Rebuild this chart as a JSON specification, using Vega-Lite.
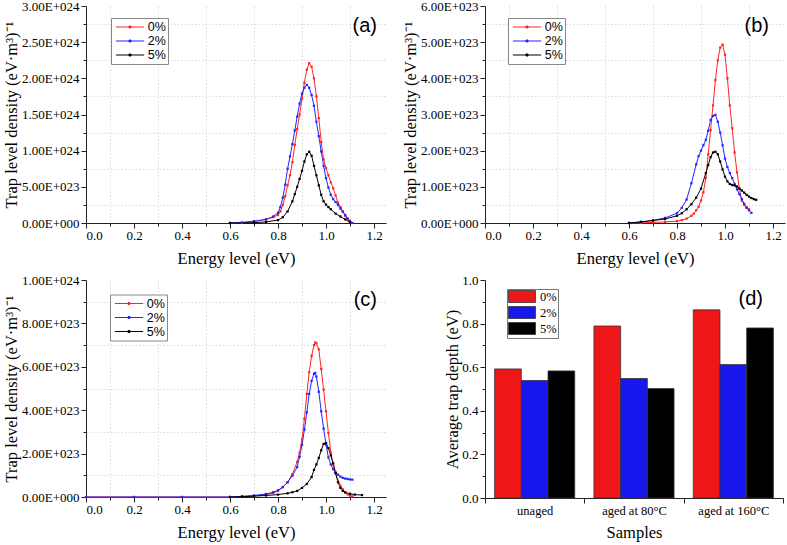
{
"$schema": "https://vega.github.io/schema/vega-lite/v6.json",
"padding": {"left": 3, "top": 0, "right": 2, "bottom": 2},
"config": {
  "view": {"stroke": null},
  "font": "Liberation Serif",
  "axis": {"labelFont": "Liberation Serif", "labelFontSize": 13, "labelColor": "#000", "titleFont": "Liberation Serif", "titleFontSize": 16.5, "titleFontWeight": "normal", "titleColor": "#000", "domainColor": "#222", "tickColor": "#222", "gridColor": "#d0d0d0", "gridDash": [1.5, 2], "gridWidth": 0.8},
  "legend": {"padding": 2, "strokeColor": "#888", "fillColor": "#fff", "labelFont": "Liberation Sans", "labelFontSize": 12.5, "labelColor": "#000", "symbolSize": 169, "rowPadding": -2, "labelOffset": 20.7, "symbolStrokeWidth": 1}
},
"datasets": {
"curves": [
{"p":"a","s":"0%","E":0.60,"d":0},{"p":"a","s":"0%","E":0.65,"d":0.005e24},{"p":"a","s":"0%","E":0.70,"d":0.02e24},{"p":"a","s":"0%","E":0.75,"d":0.05e24},{"p":"a","s":"0%","E":0.78,"d":0.08e24},{"p":"a","s":"0%","E":0.80,"d":0.11e24},{"p":"a","s":"0%","E":0.81,"d":0.16e24},{"p":"a","s":"0%","E":0.82,"d":0.25e24},{"p":"a","s":"0%","E":0.83,"d":0.37e24},{"p":"a","s":"0%","E":0.84,"d":0.52e24},{"p":"a","s":"0%","E":0.85,"d":0.66e24},{"p":"a","s":"0%","E":0.86,"d":0.84e24},{"p":"a","s":"0%","E":0.87,"d":1.08e24},{"p":"a","s":"0%","E":0.88,"d":1.30e24},{"p":"a","s":"0%","E":0.89,"d":1.50e24},{"p":"a","s":"0%","E":0.90,"d":1.72e24},{"p":"a","s":"0%","E":0.91,"d":1.94e24},{"p":"a","s":"0%","E":0.92,"d":2.12e24},{"p":"a","s":"0%","E":0.93,"d":2.21e24},{"p":"a","s":"0%","E":0.94,"d":2.16e24},{"p":"a","s":"0%","E":0.95,"d":2.00e24},{"p":"a","s":"0%","E":0.96,"d":1.75e24},{"p":"a","s":"0%","E":0.97,"d":1.45e24},{"p":"a","s":"0%","E":0.98,"d":1.12e24},{"p":"a","s":"0%","E":0.99,"d":0.88e24},{"p":"a","s":"0%","E":1.00,"d":0.76e24},{"p":"a","s":"0%","E":1.01,"d":0.66e24},{"p":"a","s":"0%","E":1.02,"d":0.56e24},{"p":"a","s":"0%","E":1.03,"d":0.48e24},{"p":"a","s":"0%","E":1.04,"d":0.38e24},{"p":"a","s":"0%","E":1.05,"d":0.28e24},{"p":"a","s":"0%","E":1.06,"d":0.22e24},{"p":"a","s":"0%","E":1.07,"d":0.16e24},{"p":"a","s":"0%","E":1.08,"d":0.10e24},{"p":"a","s":"0%","E":1.09,"d":0.05e24},{"p":"a","s":"0%","E":1.10,"d":0.01e24},
{"p":"a","s":"2%","E":0.60,"d":0},{"p":"a","s":"2%","E":0.65,"d":0.007e24},{"p":"a","s":"2%","E":0.70,"d":0.025e24},{"p":"a","s":"2%","E":0.75,"d":0.05e24},{"p":"a","s":"2%","E":0.78,"d":0.09e24},{"p":"a","s":"2%","E":0.80,"d":0.14e24},{"p":"a","s":"2%","E":0.81,"d":0.22e24},{"p":"a","s":"2%","E":0.82,"d":0.35e24},{"p":"a","s":"2%","E":0.83,"d":0.53e24},{"p":"a","s":"2%","E":0.84,"d":0.75e24},{"p":"a","s":"2%","E":0.85,"d":0.92e24},{"p":"a","s":"2%","E":0.86,"d":1.09e24},{"p":"a","s":"2%","E":0.87,"d":1.28e24},{"p":"a","s":"2%","E":0.88,"d":1.47e24},{"p":"a","s":"2%","E":0.89,"d":1.65e24},{"p":"a","s":"2%","E":0.90,"d":1.79e24},{"p":"a","s":"2%","E":0.91,"d":1.87e24},{"p":"a","s":"2%","E":0.92,"d":1.91e24},{"p":"a","s":"2%","E":0.93,"d":1.87e24},{"p":"a","s":"2%","E":0.94,"d":1.77e24},{"p":"a","s":"2%","E":0.95,"d":1.62e24},{"p":"a","s":"2%","E":0.96,"d":1.40e24},{"p":"a","s":"2%","E":0.97,"d":1.20e24},{"p":"a","s":"2%","E":0.98,"d":0.99e24},{"p":"a","s":"2%","E":0.99,"d":0.79e24},{"p":"a","s":"2%","E":1.00,"d":0.62e24},{"p":"a","s":"2%","E":1.01,"d":0.49e24},{"p":"a","s":"2%","E":1.02,"d":0.39e24},{"p":"a","s":"2%","E":1.03,"d":0.33e24},{"p":"a","s":"2%","E":1.04,"d":0.29e24},{"p":"a","s":"2%","E":1.05,"d":0.25e24},{"p":"a","s":"2%","E":1.06,"d":0.20e24},{"p":"a","s":"2%","E":1.07,"d":0.156e24},{"p":"a","s":"2%","E":1.08,"d":0.11e24},{"p":"a","s":"2%","E":1.09,"d":0.065e24},{"p":"a","s":"2%","E":1.10,"d":0.03e24},{"p":"a","s":"2%","E":1.11,"d":0},
{"p":"a","s":"5%","E":0.60,"d":0},{"p":"a","s":"5%","E":0.70,"d":0.005e24},{"p":"a","s":"5%","E":0.75,"d":0.015e24},{"p":"a","s":"5%","E":0.80,"d":0.04e24},{"p":"a","s":"5%","E":0.82,"d":0.08e24},{"p":"a","s":"5%","E":0.84,"d":0.16e24},{"p":"a","s":"5%","E":0.86,"d":0.30e24},{"p":"a","s":"5%","E":0.87,"d":0.40e24},{"p":"a","s":"5%","E":0.88,"d":0.50e24},{"p":"a","s":"5%","E":0.89,"d":0.61e24},{"p":"a","s":"5%","E":0.90,"d":0.72e24},{"p":"a","s":"5%","E":0.91,"d":0.85e24},{"p":"a","s":"5%","E":0.92,"d":0.95e24},{"p":"a","s":"5%","E":0.93,"d":0.985e24},{"p":"a","s":"5%","E":0.94,"d":0.93e24},{"p":"a","s":"5%","E":0.95,"d":0.79e24},{"p":"a","s":"5%","E":0.96,"d":0.66e24},{"p":"a","s":"5%","E":0.97,"d":0.52e24},{"p":"a","s":"5%","E":0.98,"d":0.39e24},{"p":"a","s":"5%","E":0.99,"d":0.30e24},{"p":"a","s":"5%","E":1.00,"d":0.255e24},{"p":"a","s":"5%","E":1.01,"d":0.22e24},{"p":"a","s":"5%","E":1.02,"d":0.19e24},{"p":"a","s":"5%","E":1.04,"d":0.13e24},{"p":"a","s":"5%","E":1.06,"d":0.09e24},{"p":"a","s":"5%","E":1.08,"d":0.05e24},{"p":"a","s":"5%","E":1.10,"d":0.01e24},

{"p":"b","s":"0%","E":0.60,"d":0},{"p":"b","s":"0%","E":0.65,"d":0.005e23},{"p":"b","s":"0%","E":0.70,"d":0.015e23},{"p":"b","s":"0%","E":0.75,"d":0.03e23},{"p":"b","s":"0%","E":0.80,"d":0.05e23},{"p":"b","s":"0%","E":0.82,"d":0.08e23},{"p":"b","s":"0%","E":0.84,"d":0.12e23},{"p":"b","s":"0%","E":0.86,"d":0.20e23},{"p":"b","s":"0%","E":0.87,"d":0.26e23},{"p":"b","s":"0%","E":0.88,"d":0.35e23},{"p":"b","s":"0%","E":0.89,"d":0.45e23},{"p":"b","s":"0%","E":0.90,"d":0.62e23},{"p":"b","s":"0%","E":0.91,"d":0.85e23},{"p":"b","s":"0%","E":0.92,"d":1.25e23},{"p":"b","s":"0%","E":0.93,"d":1.90e23},{"p":"b","s":"0%","E":0.94,"d":2.57e23},{"p":"b","s":"0%","E":0.95,"d":3.25e23},{"p":"b","s":"0%","E":0.96,"d":3.95e23},{"p":"b","s":"0%","E":0.97,"d":4.50e23},{"p":"b","s":"0%","E":0.98,"d":4.85e23},{"p":"b","s":"0%","E":0.99,"d":4.93e23},{"p":"b","s":"0%","E":1.00,"d":4.65e23},{"p":"b","s":"0%","E":1.01,"d":4.00e23},{"p":"b","s":"0%","E":1.02,"d":3.25e23},{"p":"b","s":"0%","E":1.03,"d":2.62e23},{"p":"b","s":"0%","E":1.04,"d":1.95e23},{"p":"b","s":"0%","E":1.05,"d":1.40e23},{"p":"b","s":"0%","E":1.06,"d":0.95e23},{"p":"b","s":"0%","E":1.07,"d":0.62e23},{"p":"b","s":"0%","E":1.08,"d":0.50e23},{"p":"b","s":"0%","E":1.09,"d":0.44e23},{"p":"b","s":"0%","E":1.10,"d":0.38e23},
{"p":"b","s":"2%","E":0.60,"d":0},{"p":"b","s":"2%","E":0.65,"d":0.03e23},{"p":"b","s":"2%","E":0.70,"d":0.07e23},{"p":"b","s":"2%","E":0.75,"d":0.14e23},{"p":"b","s":"2%","E":0.80,"d":0.27e23},{"p":"b","s":"2%","E":0.82,"d":0.42e23},{"p":"b","s":"2%","E":0.84,"d":0.65e23},{"p":"b","s":"2%","E":0.86,"d":1.10e23},{"p":"b","s":"2%","E":0.88,"d":1.62e23},{"p":"b","s":"2%","E":0.89,"d":1.85e23},{"p":"b","s":"2%","E":0.90,"d":2.00e23},{"p":"b","s":"2%","E":0.91,"d":2.15e23},{"p":"b","s":"2%","E":0.92,"d":2.30e23},{"p":"b","s":"2%","E":0.93,"d":2.55e23},{"p":"b","s":"2%","E":0.94,"d":2.85e23},{"p":"b","s":"2%","E":0.95,"d":2.96e23},{"p":"b","s":"2%","E":0.96,"d":2.99e23},{"p":"b","s":"2%","E":0.97,"d":2.80e23},{"p":"b","s":"2%","E":0.98,"d":2.50e23},{"p":"b","s":"2%","E":0.99,"d":2.15e23},{"p":"b","s":"2%","E":1.00,"d":1.78e23},{"p":"b","s":"2%","E":1.01,"d":1.55e23},{"p":"b","s":"2%","E":1.02,"d":1.38e23},{"p":"b","s":"2%","E":1.03,"d":1.24e23},{"p":"b","s":"2%","E":1.04,"d":1.08e23},{"p":"b","s":"2%","E":1.05,"d":0.93e23},{"p":"b","s":"2%","E":1.06,"d":0.80e23},{"p":"b","s":"2%","E":1.07,"d":0.66e23},{"p":"b","s":"2%","E":1.08,"d":0.53e23},{"p":"b","s":"2%","E":1.09,"d":0.42e23},{"p":"b","s":"2%","E":1.10,"d":0.35e23},{"p":"b","s":"2%","E":1.11,"d":0.28e23},
{"p":"b","s":"5%","E":0.60,"d":0},{"p":"b","s":"5%","E":0.65,"d":0.03e23},{"p":"b","s":"5%","E":0.70,"d":0.07e23},{"p":"b","s":"5%","E":0.75,"d":0.11e23},{"p":"b","s":"5%","E":0.80,"d":0.20e23},{"p":"b","s":"5%","E":0.82,"d":0.27e23},{"p":"b","s":"5%","E":0.84,"d":0.38e23},{"p":"b","s":"5%","E":0.86,"d":0.52e23},{"p":"b","s":"5%","E":0.88,"d":0.70e23},{"p":"b","s":"5%","E":0.90,"d":0.95e23},{"p":"b","s":"5%","E":0.92,"d":1.38e23},{"p":"b","s":"5%","E":0.93,"d":1.60e23},{"p":"b","s":"5%","E":0.94,"d":1.82e23},{"p":"b","s":"5%","E":0.95,"d":1.95e23},{"p":"b","s":"5%","E":0.96,"d":1.97e23},{"p":"b","s":"5%","E":0.97,"d":1.90e23},{"p":"b","s":"5%","E":0.98,"d":1.70e23},{"p":"b","s":"5%","E":0.99,"d":1.48e23},{"p":"b","s":"5%","E":1.00,"d":1.28e23},{"p":"b","s":"5%","E":1.01,"d":1.15e23},{"p":"b","s":"5%","E":1.02,"d":1.08e23},{"p":"b","s":"5%","E":1.03,"d":1.05e23},{"p":"b","s":"5%","E":1.04,"d":1.04e23},{"p":"b","s":"5%","E":1.05,"d":1.01e23},{"p":"b","s":"5%","E":1.06,"d":0.95e23},{"p":"b","s":"5%","E":1.07,"d":0.90e23},{"p":"b","s":"5%","E":1.08,"d":0.84e23},{"p":"b","s":"5%","E":1.09,"d":0.78e23},{"p":"b","s":"5%","E":1.10,"d":0.73e23},{"p":"b","s":"5%","E":1.11,"d":0.69e23},{"p":"b","s":"5%","E":1.12,"d":0.66e23},{"p":"b","s":"5%","E":1.13,"d":0.64e23},

{"p":"c","s":"0%","E":0.0,"d":0},{"p":"c","s":"0%","E":0.2,"d":0},{"p":"c","s":"0%","E":0.4,"d":0},{"p":"c","s":"0%","E":0.60,"d":0},{"p":"c","s":"0%","E":0.65,"d":0.02e23},{"p":"c","s":"0%","E":0.70,"d":0.05e23},{"p":"c","s":"0%","E":0.75,"d":0.11e23},{"p":"c","s":"0%","E":0.78,"d":0.18e23},{"p":"c","s":"0%","E":0.80,"d":0.28e23},{"p":"c","s":"0%","E":0.82,"d":0.45e23},{"p":"c","s":"0%","E":0.84,"d":0.68e23},{"p":"c","s":"0%","E":0.86,"d":1.05e23},{"p":"c","s":"0%","E":0.88,"d":1.62e23},{"p":"c","s":"0%","E":0.89,"d":2.05e23},{"p":"c","s":"0%","E":0.90,"d":2.65e23},{"p":"c","s":"0%","E":0.91,"d":3.60e23},{"p":"c","s":"0%","E":0.92,"d":4.75e23},{"p":"c","s":"0%","E":0.93,"d":5.75e23},{"p":"c","s":"0%","E":0.94,"d":6.50e23},{"p":"c","s":"0%","E":0.95,"d":7.00e23},{"p":"c","s":"0%","E":0.955,"d":7.12e23},{"p":"c","s":"0%","E":0.96,"d":7.08e23},{"p":"c","s":"0%","E":0.97,"d":6.80e23},{"p":"c","s":"0%","E":0.98,"d":5.90e23},{"p":"c","s":"0%","E":0.99,"d":4.95e23},{"p":"c","s":"0%","E":1.00,"d":3.95e23},{"p":"c","s":"0%","E":1.01,"d":2.95e23},{"p":"c","s":"0%","E":1.02,"d":2.05e23},{"p":"c","s":"0%","E":1.03,"d":1.50e23},{"p":"c","s":"0%","E":1.04,"d":1.10e23},{"p":"c","s":"0%","E":1.05,"d":0.75e23},{"p":"c","s":"0%","E":1.06,"d":0.52e23},{"p":"c","s":"0%","E":1.07,"d":0.35e23},{"p":"c","s":"0%","E":1.08,"d":0.22e23},{"p":"c","s":"0%","E":1.09,"d":0.12e23},{"p":"c","s":"0%","E":1.10,"d":0.06e23},{"p":"c","s":"0%","E":1.11,"d":0.03e23},
{"p":"c","s":"2%","E":0.0,"d":0},{"p":"c","s":"2%","E":0.2,"d":0},{"p":"c","s":"2%","E":0.4,"d":0},{"p":"c","s":"2%","E":0.60,"d":0},{"p":"c","s":"2%","E":0.65,"d":0.03e23},{"p":"c","s":"2%","E":0.70,"d":0.07e23},{"p":"c","s":"2%","E":0.75,"d":0.14e23},{"p":"c","s":"2%","E":0.78,"d":0.22e23},{"p":"c","s":"2%","E":0.80,"d":0.31e23},{"p":"c","s":"2%","E":0.82,"d":0.46e23},{"p":"c","s":"2%","E":0.84,"d":0.68e23},{"p":"c","s":"2%","E":0.86,"d":0.98e23},{"p":"c","s":"2%","E":0.88,"d":1.38e23},{"p":"c","s":"2%","E":0.89,"d":1.85e23},{"p":"c","s":"2%","E":0.90,"d":2.40e23},{"p":"c","s":"2%","E":0.91,"d":3.10e23},{"p":"c","s":"2%","E":0.92,"d":3.90e23},{"p":"c","s":"2%","E":0.93,"d":4.75e23},{"p":"c","s":"2%","E":0.94,"d":5.35e23},{"p":"c","s":"2%","E":0.95,"d":5.68e23},{"p":"c","s":"2%","E":0.955,"d":5.72e23},{"p":"c","s":"2%","E":0.96,"d":5.55e23},{"p":"c","s":"2%","E":0.97,"d":4.85e23},{"p":"c","s":"2%","E":0.98,"d":3.95e23},{"p":"c","s":"2%","E":0.99,"d":3.15e23},{"p":"c","s":"2%","E":1.00,"d":2.42e23},{"p":"c","s":"2%","E":1.01,"d":1.82e23},{"p":"c","s":"2%","E":1.02,"d":1.50e23},{"p":"c","s":"2%","E":1.03,"d":1.28e23},{"p":"c","s":"2%","E":1.04,"d":1.14e23},{"p":"c","s":"2%","E":1.05,"d":1.03e23},{"p":"c","s":"2%","E":1.06,"d":0.94e23},{"p":"c","s":"2%","E":1.07,"d":0.88e23},{"p":"c","s":"2%","E":1.08,"d":0.85e23},{"p":"c","s":"2%","E":1.09,"d":0.83e23},{"p":"c","s":"2%","E":1.10,"d":0.81e23},{"p":"c","s":"2%","E":1.11,"d":0.80e23},
{"p":"c","s":"5%","E":0.60,"d":0},{"p":"c","s":"5%","E":0.65,"d":0.01e23},{"p":"c","s":"5%","E":0.70,"d":0.04e23},{"p":"c","s":"5%","E":0.75,"d":0.07e23},{"p":"c","s":"5%","E":0.80,"d":0.11e23},{"p":"c","s":"5%","E":0.84,"d":0.17e23},{"p":"c","s":"5%","E":0.86,"d":0.22e23},{"p":"c","s":"5%","E":0.88,"d":0.28e23},{"p":"c","s":"5%","E":0.90,"d":0.42e23},{"p":"c","s":"5%","E":0.92,"d":0.60e23},{"p":"c","s":"5%","E":0.94,"d":0.92e23},{"p":"c","s":"5%","E":0.95,"d":1.25e23},{"p":"c","s":"5%","E":0.96,"d":1.50e23},{"p":"c","s":"5%","E":0.97,"d":1.80e23},{"p":"c","s":"5%","E":0.98,"d":2.15e23},{"p":"c","s":"5%","E":0.99,"d":2.45e23},{"p":"c","s":"5%","E":1.00,"d":2.48e23},{"p":"c","s":"5%","E":1.01,"d":2.25e23},{"p":"c","s":"5%","E":1.02,"d":1.92e23},{"p":"c","s":"5%","E":1.03,"d":1.55e23},{"p":"c","s":"5%","E":1.04,"d":1.10e23},{"p":"c","s":"5%","E":1.05,"d":0.68e23},{"p":"c","s":"5%","E":1.06,"d":0.42e23},{"p":"c","s":"5%","E":1.07,"d":0.28e23},{"p":"c","s":"5%","E":1.08,"d":0.21e23},{"p":"c","s":"5%","E":1.10,"d":0.15e23},{"p":"c","s":"5%","E":1.12,"d":0.11e23},{"p":"c","s":"5%","E":1.15,"d":0.09e23}
],
"bars": [
{"sample":"unaged","s":"0%","depth":0.592},{"sample":"unaged","s":"2%","depth":0.539},{"sample":"unaged","s":"5%","depth":0.583},
{"sample":"aged at 80°C","s":"0%","depth":0.789},{"sample":"aged at 80°C","s":"2%","depth":0.548},{"sample":"aged at 80°C","s":"5%","depth":0.502},
{"sample":"aged at 160°C","s":"0%","depth":0.863},{"sample":"aged at 160°C","s":"2%","depth":0.612},{"sample":"aged at 160°C","s":"5%","depth":0.780}
]
},
"columns": 2,
"spacing": {"row": 7, "column": 16},
"resolve": {"scale": {"color": "independent"}, "legend": {"color": "independent"}},
"concat": [
{
  "width": 300, "height": 217,
  "data": {"name": "curves"},
  "transform": [{"filter": "datum.p == 'a'"}],
  "title": {"text": "(a)", "anchor": "end", "frame": "group", "orient": "top", "font": "Liberation Sans", "fontSize": 20, "fontWeight": "normal", "color": "#000", "offset": 0, "dy": 36, "dx": -9},
  "mark": {"type": "line", "strokeWidth": 1, "point": {"filled": true, "size": 5, "shape": "square"}},
  "encoding": {
    "x": {"field": "E", "type": "quantitative", "scale": {"domain": [0, 1.25], "nice": false},
      "axis": {"title": "Energy level (eV)", "titleFont": "Liberation Serif", "titleFontWeight": "normal", "labelFont": "Liberation Serif", "values": [0,0.1,0.2,0.3,0.4,0.5,0.6,0.7,0.8,0.9,1.0,1.1,1.2],
        "labelExpr": "round(datum.value*10) % 2 == 0 ? format(datum.value, '.1f') : ''",
        "tickSize": {"condition": {"test": "round(datum.value*10) % 2 == 0", "value": 5}, "value": 3},
        "grid": true, "gridOpacity": {"condition": {"test": "round(datum.value*10) % 2 == 1", "value": 1}, "value": 0},
        "labelPadding": 1, "titlePadding": 8}},
    "y": {"field": "d", "type": "quantitative", "scale": {"domain": [0, 3e24], "nice": false},
      "axis": {"title": "Trap level density (eV·m³)⁻¹", "titleFont": "Liberation Serif", "titleFontWeight": "normal", "labelFont": "Liberation Serif", "values": [0,2.5e23,5e23,7.5e23,1e24,1.25e24,1.5e24,1.75e24,2e24,2.25e24,2.5e24,2.75e24,3e24],
        "labelExpr": "round(datum.value/2.5e23) % 2 != 0 ? '' : (datum.value == 0 ? '0.00E+000' : format(datum.value / pow(10, floor(log(datum.value)/LN10 + 1e-9)), '.2f') + 'E+0' + floor(log(datum.value)/LN10 + 1e-9))",
        "tickSize": {"condition": {"test": "round(datum.value/2.5e23) % 2 == 0", "value": 5}, "value": 3},
        "grid": true, "gridOpacity": {"condition": {"test": "round(datum.value/2.5e23) % 2 == 1", "value": 1}, "value": 0},
        "labelPadding": 2, "titlePadding": 2}},
    "color": {"field": "s", "type": "nominal", "scale": {"domain": ["0%","2%","5%"], "range": ["#ff2424","#2424ff","#000000"]},
      "legend": {"title": null, "orient": "none", "legendX": 25, "legendY": 12, "symbolType": "M-0.63,0H3.72M1.39,-0.15H1.69V0.15H1.39Z"}}
  }
},
{
  "width": 300, "height": 217,
  "data": {"name": "curves"},
  "transform": [{"filter": "datum.p == 'b'"}],
  "title": {"text": "(b)", "anchor": "end", "frame": "group", "orient": "top", "font": "Liberation Sans", "fontSize": 20, "fontWeight": "normal", "color": "#000", "offset": 0, "dy": 36, "dx": -16},
  "mark": {"type": "line", "strokeWidth": 1, "point": {"filled": true, "size": 5, "shape": "square"}},
  "encoding": {
    "x": {"field": "E", "type": "quantitative", "scale": {"domain": [0, 1.25], "nice": false},
      "axis": {"title": "Energy level (eV)", "titleFont": "Liberation Serif", "titleFontWeight": "normal", "labelFont": "Liberation Serif", "values": [0,0.1,0.2,0.3,0.4,0.5,0.6,0.7,0.8,0.9,1.0,1.1,1.2],
        "labelExpr": "round(datum.value*10) % 2 == 0 ? format(datum.value, '.1f') : ''",
        "tickSize": {"condition": {"test": "round(datum.value*10) % 2 == 0", "value": 5}, "value": 3},
        "grid": true, "gridOpacity": {"condition": {"test": "round(datum.value*10) % 2 == 1", "value": 1}, "value": 0},
        "labelPadding": 1, "titlePadding": 8}},
    "y": {"field": "d", "type": "quantitative", "scale": {"domain": [0, 6e23], "nice": false},
      "axis": {"title": "Trap level density (eV·m³)⁻¹", "titleFont": "Liberation Serif", "titleFontWeight": "normal", "labelFont": "Liberation Serif", "values": [0,5e22,1e23,1.5e23,2e23,2.5e23,3e23,3.5e23,4e23,4.5e23,5e23,5.5e23,6e23],
        "labelExpr": "round(datum.value/5e22) % 2 != 0 ? '' : (datum.value == 0 ? '0.00E+000' : format(datum.value / pow(10, floor(log(datum.value)/LN10 + 1e-9)), '.2f') + 'E+0' + floor(log(datum.value)/LN10 + 1e-9))",
        "tickSize": {"condition": {"test": "round(datum.value/5e22) % 2 == 0", "value": 5}, "value": 3},
        "grid": true, "gridOpacity": {"condition": {"test": "round(datum.value/5e22) % 2 == 1", "value": 1}, "value": 0},
        "labelPadding": 2, "titlePadding": 2}},
    "color": {"field": "s", "type": "nominal", "scale": {"domain": ["0%","2%","5%"], "range": ["#ff2424","#2424ff","#000000"]},
      "legend": {"title": null, "orient": "none", "legendX": 23, "legendY": 12, "symbolType": "M-0.63,0H3.72M1.39,-0.15H1.69V0.15H1.39Z"}}
  }
},
{
  "width": 300, "height": 217,
  "data": {"name": "curves"},
  "transform": [{"filter": "datum.p == 'c'"}],
  "title": {"text": "(c)", "anchor": "end", "frame": "group", "orient": "top", "font": "Liberation Sans", "fontSize": 20, "fontWeight": "normal", "color": "#000", "offset": 0, "dy": 36, "dx": -9},
  "mark": {"type": "line", "strokeWidth": 1, "point": {"filled": true, "size": 5, "shape": "square"}},
  "encoding": {
    "x": {"field": "E", "type": "quantitative", "scale": {"domain": [0, 1.25], "nice": false},
      "axis": {"title": "Energy level (eV)", "titleFont": "Liberation Serif", "titleFontWeight": "normal", "labelFont": "Liberation Serif", "values": [0,0.1,0.2,0.3,0.4,0.5,0.6,0.7,0.8,0.9,1.0,1.1,1.2],
        "labelExpr": "round(datum.value*10) % 2 == 0 ? format(datum.value, '.1f') : ''",
        "tickSize": {"condition": {"test": "round(datum.value*10) % 2 == 0", "value": 5}, "value": 3},
        "grid": true, "gridOpacity": {"condition": {"test": "round(datum.value*10) % 2 == 1", "value": 1}, "value": 0},
        "labelPadding": 1, "titlePadding": 8}},
    "y": {"field": "d", "type": "quantitative", "scale": {"domain": [0, 1e24], "nice": false},
      "axis": {"title": "Trap level density (eV·m³)⁻¹", "titleFont": "Liberation Serif", "titleFontWeight": "normal", "labelFont": "Liberation Serif", "values": [0,1e23,2e23,3e23,4e23,5e23,6e23,7e23,8e23,9e23,1e24],
        "labelExpr": "round(datum.value/1e23) % 2 != 0 ? '' : (datum.value == 0 ? '0.00E+000' : format(datum.value / pow(10, floor(log(datum.value)/LN10 + 1e-9)), '.2f') + 'E+0' + floor(log(datum.value)/LN10 + 1e-9))",
        "tickSize": {"condition": {"test": "round(datum.value/1e23) % 2 == 0", "value": 5}, "value": 3},
        "grid": true, "gridOpacity": {"condition": {"test": "round(datum.value/1e23) % 2 == 1", "value": 1}, "value": 0},
        "labelPadding": 2, "titlePadding": 2}},
    "color": {"field": "s", "type": "nominal", "scale": {"domain": ["0%","2%","5%"], "range": ["#ff2424","#2424ff","#000000"]},
      "legend": {"title": null, "orient": "none", "legendX": 24, "legendY": 14.5, "symbolType": "M-0.63,0H3.72M1.39,-0.15H1.69V0.15H1.39Z"}}
  }
},
{
  "width": 298, "height": 218,
  "data": {"name": "bars"},
  "title": {"text": "(d)", "anchor": "end", "frame": "group", "orient": "top", "font": "Liberation Sans", "fontSize": 20, "fontWeight": "normal", "color": "#000", "offset": 0, "dy": 35, "dx": -20},
  "mark": {"type": "bar", "stroke": "#333", "strokeWidth": 0.8},
  "encoding": {
    "x": {"field": "sample", "type": "nominal", "sort": ["unaged","aged at 80°C","aged at 160°C"], "scale": {"paddingInner": 0, "paddingOuter": 0},
      "axis": {"title": "Samples", "titleFont": "Liberation Serif", "titleFontWeight": "normal", "labelFont": "Liberation Serif", "labelAngle": 0, "tickBand": "extent", "tickSize": 5, "labelFontSize": 12.5, "labelPadding": 1, "titlePadding": 8}},
    "xOffset": {"field": "s", "type": "nominal", "sort": ["0%","2%","5%"], "scale": {"paddingInner": 0, "paddingOuter": 0.36}},
    "y": {"field": "depth", "type": "quantitative", "scale": {"domain": [0, 1], "nice": false},
      "axis": {"title": "Average trap depth (eV)", "titleFont": "Liberation Serif", "titleFontWeight": "normal", "labelFont": "Liberation Serif", "values": [0,0.1,0.2,0.3,0.4,0.5,0.6,0.7,0.8,0.9,1.0],
        "labelExpr": "round(datum.value*10) % 2 == 0 ? format(datum.value, '.1f') : ''",
        "tickSize": {"condition": {"test": "round(datum.value*10) % 2 == 0", "value": 5}, "value": 3},
        "grid": false, "labelPadding": 2, "titlePadding": 1}},
    "color": {"field": "s", "type": "nominal", "scale": {"domain": ["0%","2%","5%"], "range": ["#ee1616","#1818ee","#000000"]},
      "legend": {"title": null, "orient": "none", "legendX": 22, "legendY": 9, "symbolType": "M-1,-1H3.5V1H-1Z", "symbolSize": 144, "padding": 1, "rowPadding": -1, "labelOffset": 19, "labelFont": "Liberation Serif", "labelFontSize": 12.5, "symbolStrokeColor": "#333", "symbolStrokeWidth": 0.8, "strokeColor": "#777"}}
  }
}
]
}
